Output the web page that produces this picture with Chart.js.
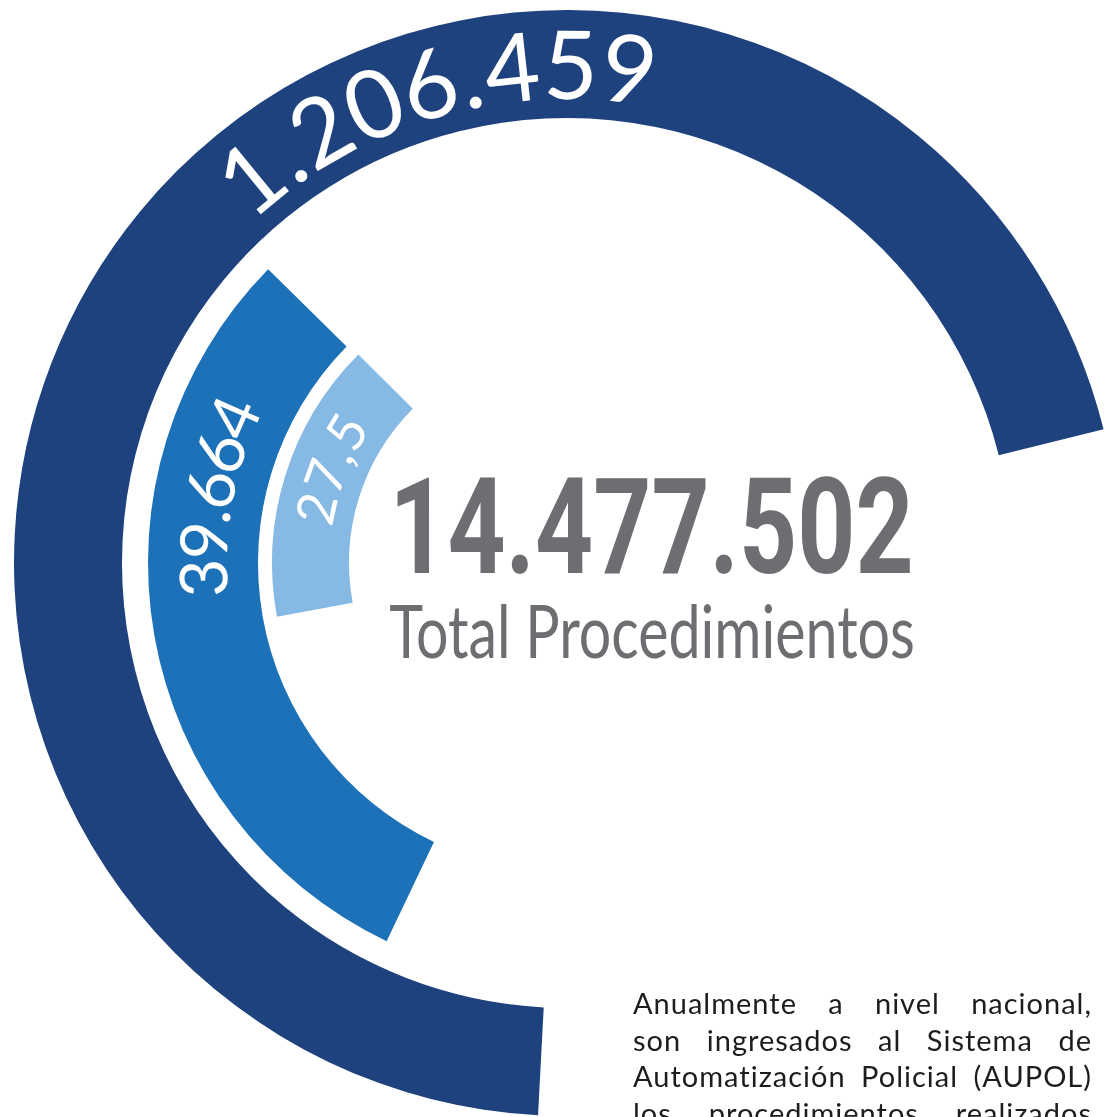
<!DOCTYPE html>
<html>
<head>
<meta charset="utf-8">
<script src="https://cdn.jsdelivr.net/npm/chart.js@4/dist/chart.umd.min.js"></script>
<style>
    html, body { margin: 0; padding: 0; background: #fff; overflow: hidden; width: 1113px; height: 1117px; }
    #wrap { position: absolute; left: 14px; top: 10px; width: 1106px; height: 1106px; }
    #nota { position: absolute; left: 633px; top: 985px; width: 459px; font-family: Lato, sans-serif;
            font-size: 29px; line-height: 36.5px; color: #1d1d1b; letter-spacing: 1px; }
    #nota div { text-align: justify; text-align-last: justify; white-space: nowrap; }
</style>
</head>
<body>
<div id="wrap"><canvas id="ringChart" width="1106" height="1106"></canvas></div>
<div id="nota">
    <div>Anualmente a nivel nacional,</div>
    <div>son ingresados al Sistema de</div>
    <div>Automatización Policial (AUPOL)</div>
    <div>los procedimientos realizados</div>
</div>
<script>
// values printed on the rings (outer to inner)
const values = [1206459, 39664, 27.5];
const valueLabels = ['1.206.459', '39.664', '27,5'];
// where each ring starts and how far it sweeps, degrees clockwise from 12 o'clock
const arcStartDeg = [183, 205.5, 259.5];
const arcSweepDeg = [253, 109, 55.5];
const ringColors = ['#1e427e', '#1c71b8', '#86b9e3'];
const totalLabel = '14.477.502';
const totalCaption = 'Total Procedimientos';

// ring thickness (weights) and the white gaps between rings
const ringWeights = [108, 110, 77];
const gapWeights = [26, 14];

// label placement along each ring: centre angle, angular span of glyph centres, font px
const labelAngle = [343.9, 280.6, 291.5];
const labelSpan = [46.5, 26, 18.5];
const labelSize = [95, 66, 53];

const datasets = [];
values.forEach((v, i) => {
    datasets.push({
        data: [v],
        backgroundColor: ringColors[i],
        rotation: arcStartDeg[i],
        circumference: arcSweepDeg[i],
        weight: ringWeights[i],
        borderWidth: 0,
        hoverBorderWidth: 0
    });
    if (i < gapWeights.length) {
        // transparent spacer ring
        datasets.push({
            data: [1],
            backgroundColor: 'rgba(0,0,0,0)',
            weight: gapWeights[i],
            borderWidth: 0,
            hoverBorderWidth: 0
        });
    }
});

function arcText(ctx, text, cx, cy, rMid, centreDeg, spanDeg, size) {
    ctx.save();
    ctx.font = '400 ' + size + 'px Lato, sans-serif';
    ctx.fillStyle = '#ffffff';
    ctx.textAlign = 'center';
    ctx.textBaseline = 'alphabetic';
    const chars = [...text];
    const w = chars.map(c => ctx.measureText(c).width);
    const capH = ctx.measureText('0').actualBoundingBoxAscent;
    const n = chars.length;
    const target = spanDeg * Math.PI / 180 * rMid;
    const natural = w.reduce((a, b) => a + b, 0) - w[0] / 2 - w[n - 1] / 2;
    const track = (target - natural) / (n - 1);
    let s = -target / 2;
    const base = rMid - capH / 2;
    for (let i = 0; i < n; i++) {
        const a = centreDeg * Math.PI / 180 + s / rMid;
        ctx.save();
        ctx.translate(cx, cy);
        ctx.rotate(a);
        ctx.fillText(chars[i], 0, -base);
        ctx.restore();
        if (i < n - 1) s += w[i] / 2 + track + w[i + 1] / 2;
    }
    ctx.restore();
}

function fitText(ctx, text, font, left, top, right, baseline, color, capRef) {
    ctx.save();
    ctx.font = font;
    ctx.fillStyle = color;
    ctx.textAlign = 'left';
    ctx.textBaseline = 'alphabetic';
    const m = ctx.measureText(text);
    const inkW = m.actualBoundingBoxLeft + m.actualBoundingBoxRight;
    const capH = ctx.measureText(capRef).actualBoundingBoxAscent;
    const sx = (right - left) / inkW;
    const sy = (baseline - top) / capH;
    ctx.translate(left, baseline);
    ctx.scale(sx, sy);
    ctx.fillText(text, m.actualBoundingBoxLeft, 0);
    ctx.restore();
}

const labelPlugin = {
    id: 'ringLabels',
    afterDatasetsDraw(chart) {
        const ctx = chart.ctx;
        let k = 0;
        chart.data.datasets.forEach((ds, di) => {
            if (ds.backgroundColor === 'rgba(0,0,0,0)') return;
            const arc = chart.getDatasetMeta(di).data[0];
            const rMid = (arc.innerRadius + arc.outerRadius) / 2;
            arcText(ctx, valueLabels[k], arc.x, arc.y, rMid, labelAngle[k], labelSpan[k], labelSize[k]);
            k++;
        });
        // centre total (page coords minus canvas offset)
        const ox = 14, oy = 10;
        fitText(ctx, totalLabel, '700 130px Roboto, sans-serif', 397 - ox, 478 - oy, 910 - ox, 573 - oy, '#6d6e71', '1');
        fitText(ctx, totalCaption, '400 70px Lato, sans-serif', 390 - ox, 605 - oy, 913 - ox, 658 - oy, '#6d6e71', 'T');
    }
};

new Chart(document.getElementById('ringChart').getContext('2d'), {
    type: 'doughnut',
    data: {
        labels: ['valor'],
        datasets: datasets
    },
    options: {
        responsive: false,
        animation: false,
        events: [],
        cutout: '39.42%',
        layout: { padding: 0 },
        plugins: {
            legend: { display: false },
            tooltip: { enabled: false }
        }
    },
    plugins: [labelPlugin]
});
</script>
</body>
</html>
